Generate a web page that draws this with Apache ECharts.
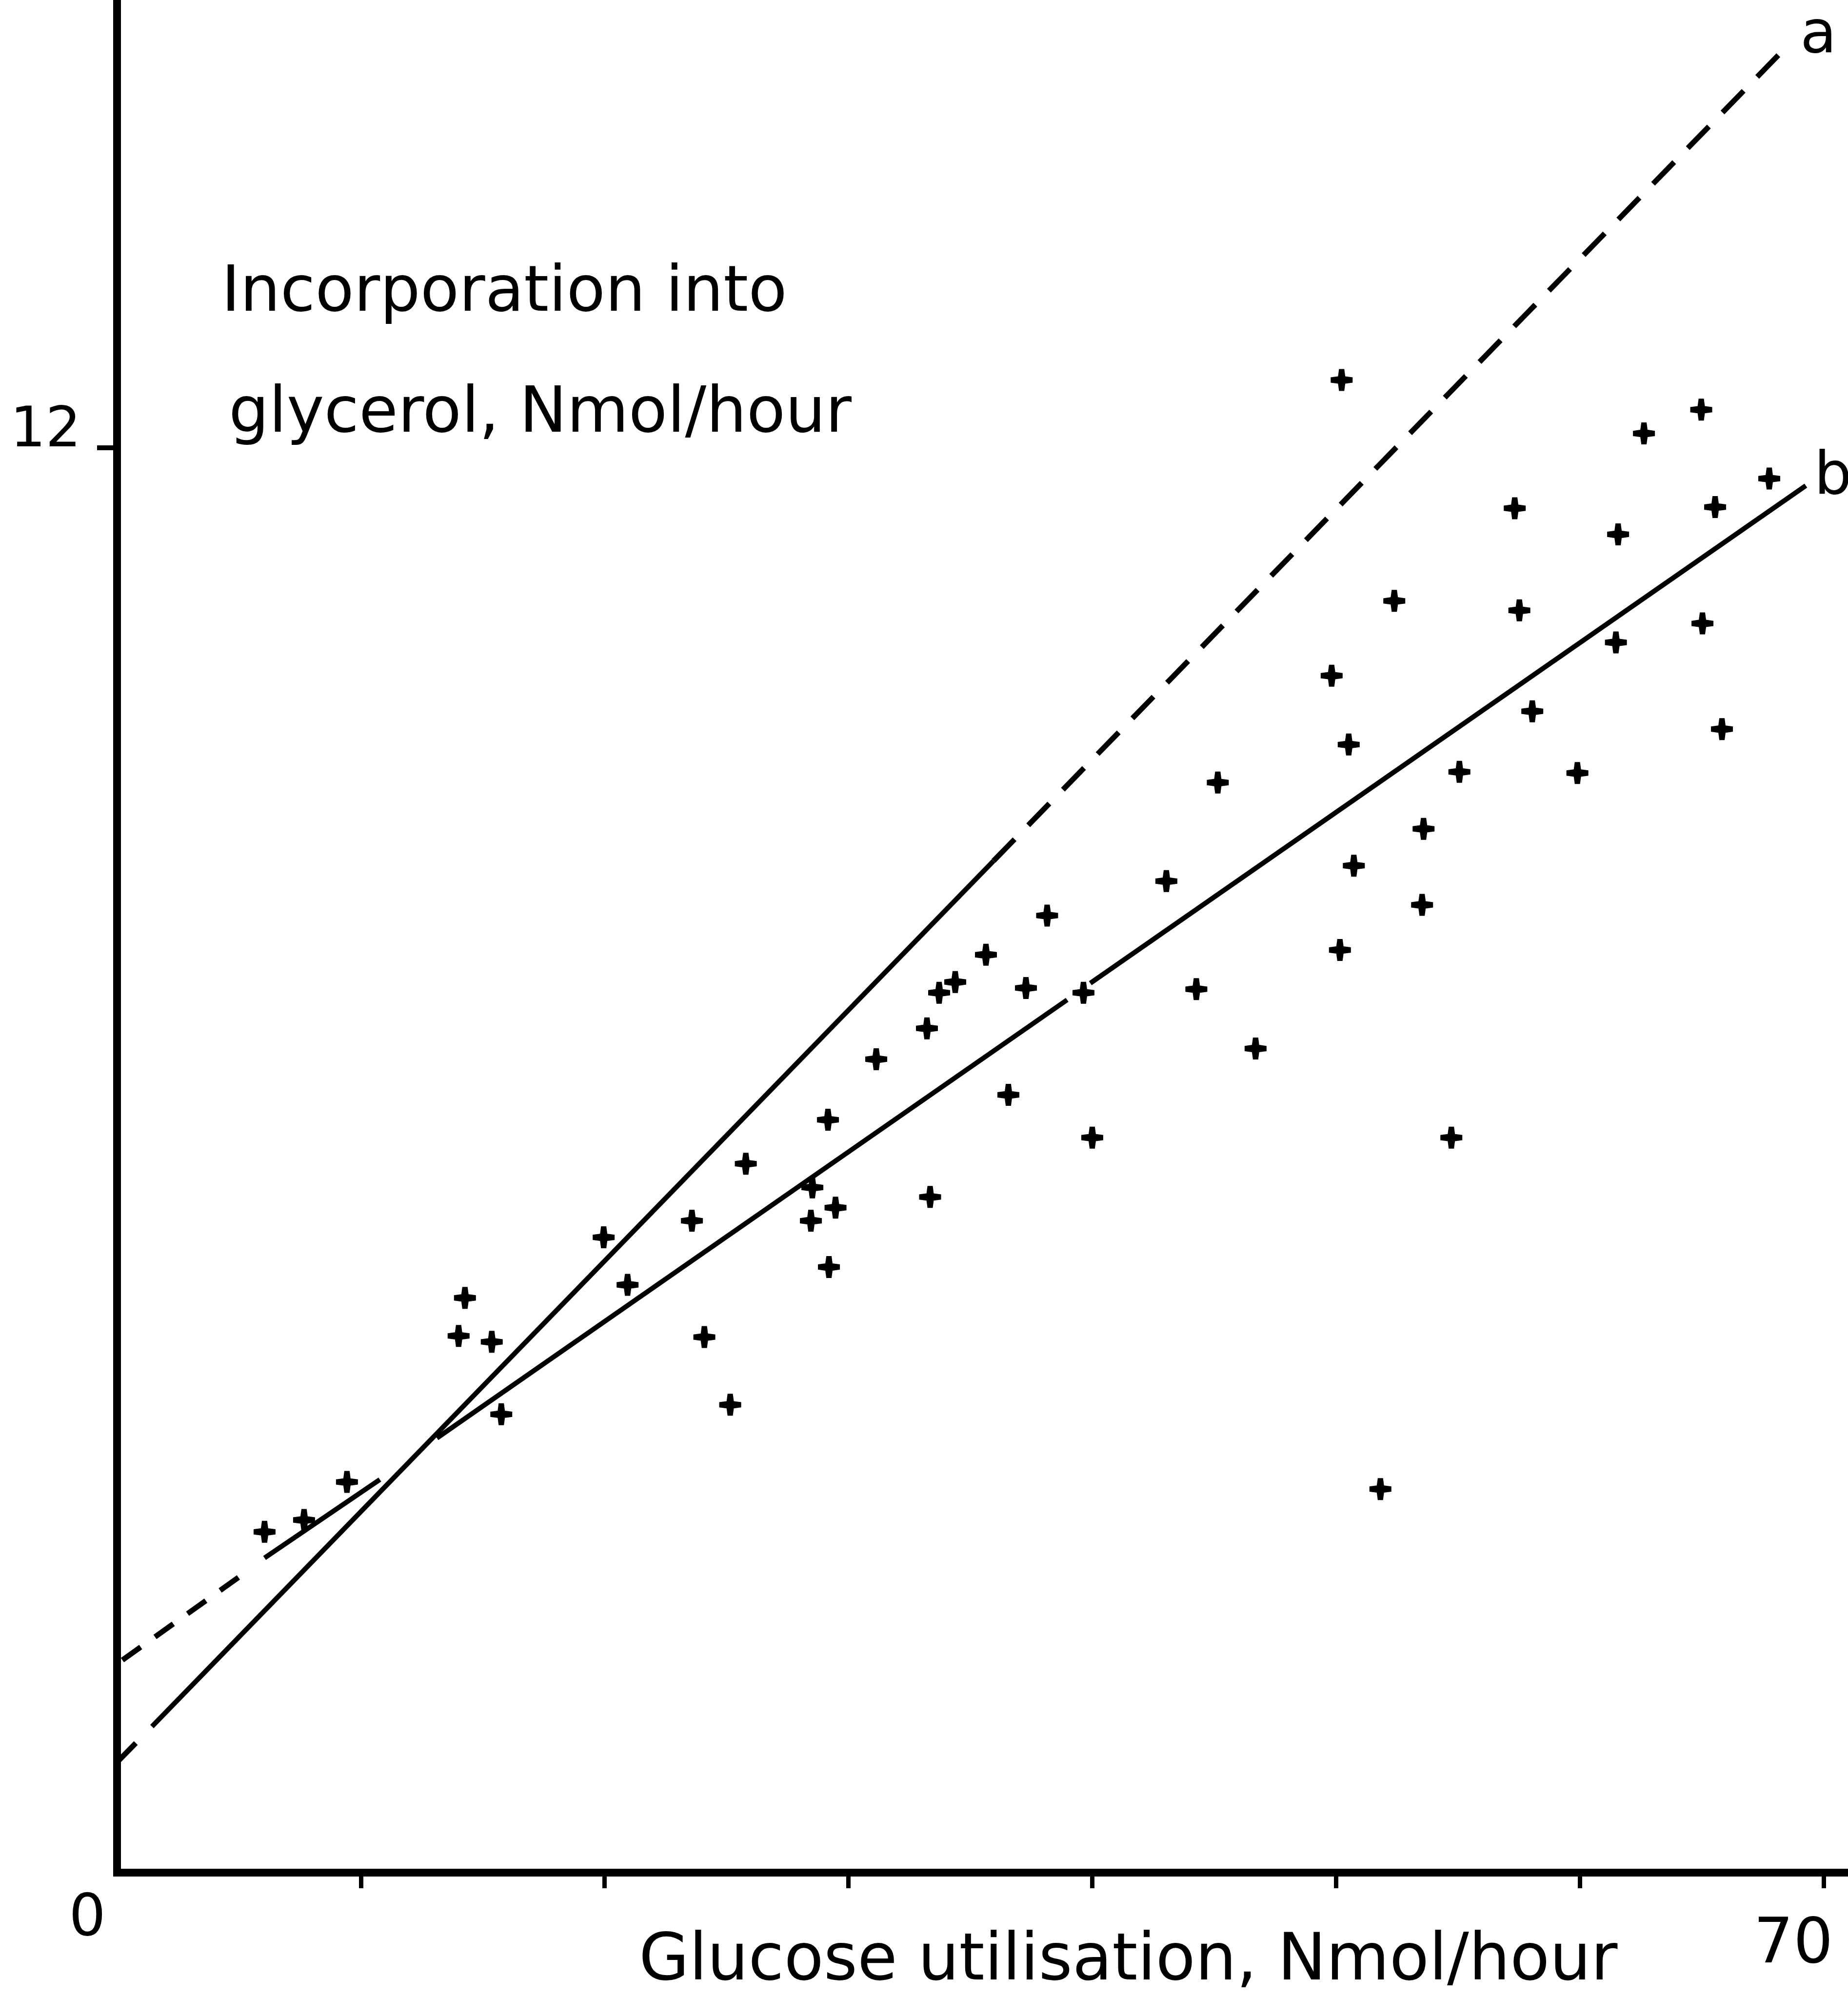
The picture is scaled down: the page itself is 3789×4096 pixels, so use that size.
<!DOCTYPE html>
<html>
<head>
<meta charset="utf-8">
<script src="https://cdn.jsdelivr.net/npm/echarts@6/dist/echarts.min.js"></script>
<style>
html,body{margin:0;padding:0;background:#fff;}
#c{width:3789px;height:4096px;}
</style>
</head>
<body>
<div id="c"></div>
<script>
// ---- data ----
const points = [
  [6.05,2.87],[7.67,2.97],[9.43,3.29],[14.27,4.84],[14.01,4.52],[15.37,4.47],[15.76,3.86],
  [20.94,4.95],[24.09,4.51],[19.96,5.35],[23.58,5.49],[25.15,3.94],[25.79,5.97],[29.16,6.34],
  [28.52,5.77],[29.47,5.60],[28.46,5.49],[29.20,5.10],[31.14,6.85],[33.22,7.11],[33.72,7.41],
  [34.38,7.50],[33.35,5.69],[35.64,7.73],[37.28,7.45],[36.56,6.55],[38.15,8.06],[39.64,7.41],
  [40.00,6.19],[43.04,8.35],[57.33,11.49],[61.57,11.27],[52.39,10.71],[57.52,10.63],[61.48,10.36],
  [49.82,10.08],[58.05,9.78],[50.52,9.50],[45.15,9.18],[55.06,9.27],[59.90,9.26],[53.59,8.79],
  [50.73,8.48],[53.53,8.15],[50.16,7.77],[44.27,7.44],[46.70,6.94],[50.23,12.57],[64.98,12.32],
  [62.63,12.12],[67.77,11.74],[65.55,11.50],[65.03,10.52],[65.83,9.63],[54.73,6.19],[51.82,3.23]
];
// line a: break points (dash | solid | dash)
const lineA = [[0,0.93],[1.43,1.23],[35.95,8.52],[68.26,15.33]];
// line b: pairs of segment ends (dash, solid, solid, solid)
const lineB = [[0.22,1.79],[5.28,2.53],[6.05,2.65],[10.78,3.31],[13.12,3.66],[38.97,7.35],[39.92,7.49],[69.27,11.68]];
const lineNames = ['a','b'];
const xTickValues = [10,20,30,40,50,60,70];
const xLabelValues = [0,70];
const yTickValues = [12];
const yLabelValues = [12];
const xTitle = 'Glucose utilisation, Nmol/hour';
const yTitle = ['Incorporation into','glycerol, Nmol/hour'];

// ---- chart ----
const FONT = '"DejaVu Sans", sans-serif';
const chart = echarts.init(document.getElementById('c'), null, {renderer:'canvas'});

function seg(data, i, j, type, width, endLabel) {
  const s = {
    type:'line', data:data.slice(i, j+1), symbol:'none', showSymbol:false,
    silent:true, animation:false, z:3,
    lineStyle:{color:'#000', width:width, type:type, cap:'butt', opacity:1}
  };
  if (endLabel) s.endLabel = endLabel;
  return s;
}

const plusPath = 'path://M-1.2,-5L1.2,-5L1.65,-1.65L5,-1.2L5,1.2L1.65,1.65L1.2,5L-1.2,5L-1.65,1.65L-5,1.2L-5,-1.2L-1.65,-1.65Z';

const series = [
  seg(lineA, 0, 1, [55,60], 11),
  seg(lineA, 1, 2, 'solid', 10),
  seg(lineA, 2, 3, [62,40], 11, {
    show:true, formatter:lineNames[0], color:'#000', fontFamily:FONT, fontSize:122,
    distance:0, offset:[39,-32], align:'left', verticalAlign:'middle'
  }),
  seg(lineB, 0, 1, [46,36], 11),
  seg(lineB, 2, 3, 'solid', 10),
  seg(lineB, 4, 5, 'solid', 10),
  seg(lineB, 6, 7, 'solid', 10, {
    show:true, formatter:lineNames[1], color:'#000', fontFamily:FONT, fontSize:122,
    distance:0, offset:[17,-15], align:'left', verticalAlign:'middle'
  }),
  {
    type:'scatter', data:points, symbol:plusPath, symbolSize:45,
    itemStyle:{color:'#000', opacity:1, borderWidth:0}, silent:true, animation:false, z:4
  }
];

const option = {
  backgroundColor:'#fff',
  animation:false,
  grid:{left:240, right:0, top:0, bottom:257, outerBoundsMode:'none', containLabel:false},
  xAxis:{
    type:'value', min:0, max:71,
    axisLine:{show:true, onZero:false, lineStyle:{color:'#000', width:16, cap:'square'}},
    axisTick:{show:true, customValues:xTickValues, length:32, lineStyle:{color:'#000', width:9}},
    axisLabel:{
      show:true, customValues:xLabelValues, showMinLabel:true, showMaxLabel:true,
      margin:97, verticalAlign:'middle', color:'#000', fontFamily:FONT,
      formatter:function(v){ return v === xLabelValues[0] ? '{lo|' + v + '}' : '{hi|' + v + '}'; },
      rich:{
        lo:{fontSize:119, fontFamily:FONT, color:'#000', padding:[0,122,0,0]},
        hi:{fontSize:128, fontFamily:FONT, color:'#000', padding:[108,124,0,0]}
      }
    },
    splitLine:{show:false}
  },
  yAxis:{
    type:'value', min:0, max:15.77,
    axisLine:{show:true, onZero:false, lineStyle:{color:'#000', width:16, cap:'square'}},
    axisTick:{show:true, customValues:yTickValues, length:41, lineStyle:{color:'#000', width:10}},
    axisLabel:{
      show:true, customValues:yLabelValues, margin:74,
      color:'#000', fontFamily:FONT, fontSize:114,
      formatter:function(v){ return '{t|' + v + '}'; },
      rich:{ t:{fontSize:114, fontFamily:FONT, color:'#000', padding:[0,0,64,0]} }
    },
    splitLine:{show:false}
  },
  graphic:[
    {type:'text', x:454, y:603, silent:true, z:10,
     style:{text:yTitle[0], font:'130px ' + FONT, fill:'#000', align:'left', verticalAlign:'middle', textAlign:'left', textVerticalAlign:'middle'}},
    {type:'text', x:469, y:851, silent:true, z:10,
     style:{text:yTitle[1], font:'130px ' + FONT, fill:'#000', align:'left', verticalAlign:'middle', textAlign:'left', textVerticalAlign:'middle'}},
    {type:'text', x:1310, y:4023, silent:true, z:10,
     style:{text:xTitle, font:'133px ' + FONT, fill:'#000', align:'left', verticalAlign:'middle', textAlign:'left', textVerticalAlign:'middle'}}
  ],
  series:series
};
chart.setOption(option);
</script>
</body>
</html>
